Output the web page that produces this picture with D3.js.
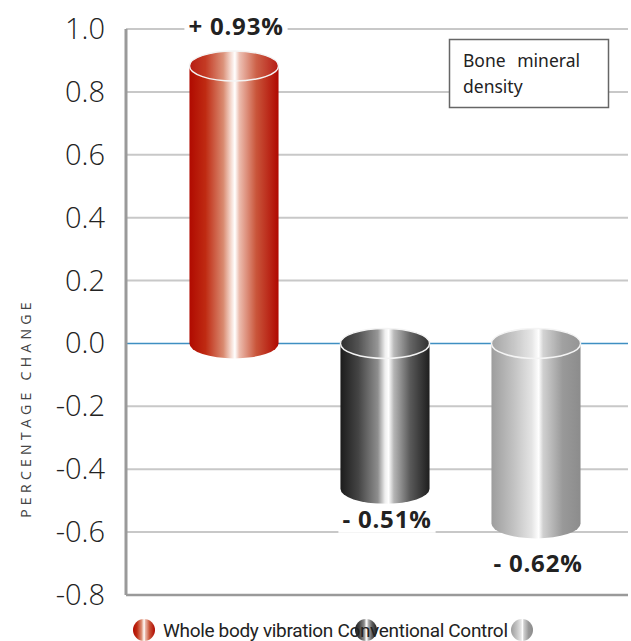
<!DOCTYPE html>
<html>
<head>
	<meta charset="utf-8">
	<title>bone mineral density</title>
	<script src="https://cdn.jsdelivr.net/npm/d3@7/dist/d3.min.js"></script>
	<style>
		body {
			margin: 0;
			background: #fff;
		}
		.grid line {
			stroke: #c8c8c8;
			stroke-width: 2;
		}
		.tick-label {
			font-family: "Open Sans", sans-serif;
			font-weight: 300;
			font-size: 29px;
			fill: #222;
		}
		.value-label {
			font-family: "Open Sans", sans-serif;
			font-weight: 700;
			font-size: 24px;
			fill: #222;
		}
		.legend text {
			font-family: "Liberation Sans Narrow", "Roboto", sans-serif;
			font-size: 19px;
			fill: #222;
		}
	</style>
</head>
<body>
	<svg id="chart" width="631" height="641"></svg>
<script>

// data
var categories = ["Whole body vibration", "Conventional", "Control"];
var values = [0.93, -0.51, -0.62];
var valueLabels = ["+ 0.93%", "- 0.51%", "- 0.62%"];
var yTicks = [1.0, 0.8, 0.6, 0.4, 0.2, 0.0, -0.2, -0.4, -0.6, -0.8];

// gradient stops for each cylinder (offset, colour)
var gradStops = [
	[[0, "#b00a00"], [0.18, "#bf2a12"], [0.38, "#d98a70"], [0.47, "#f6ddd4"], [0.51, "#ffffff"], [0.56, "#ecbcae"], [0.75, "#c9553a"], [1, "#b00800"]],
	[[0, "#1c1c1c"], [0.2, "#444"], [0.42, "#8e8e8e"], [0.5, "#eeeeee"], [0.54, "#ffffff"], [0.6, "#b5b5b5"], [0.78, "#5a5a5a"], [1, "#1e1e1e"]],
	[[0, "#9d9d9d"], [0.25, "#c2c2c2"], [0.45, "#e4e4e4"], [0.53, "#ffffff"], [0.58, "#d0d0d0"], [0.8, "#999"], [1, "#8c8c8c"]]
];

var svg = d3.select("#chart");

var y = d3.scaleLinear()
	.domain([-0.8, 1.0])
	.range([595, 29]);

var x = d3.scaleBand()
	.domain(categories)
	.range([158.5, 611.5])
	.paddingInner(0.41)
	.paddingOuter(0.205);

var axisX = 126, rightX = 628;
var ry = 15;

// gradients
var defs = svg.append("defs");
gradStops.forEach(function(stops, i) {
	var g = defs.append("linearGradient")
		.attr("id", "grad" + i)
		.attr("x1", "0%").attr("x2", "100%")
		.attr("y1", "0%").attr("y2", "0%");
	stops.forEach(function(s) {
		g.append("stop").attr("offset", s[0]).attr("stop-color", s[1]);
	});
});

//
// grid and axis
//

var gridG = svg.append("g").attr("class", "grid");
gridG.selectAll("line")
	.data(yTicks.filter(function(d) { return d !== 0 && d !== -0.8; }))
	.enter().append("line")
		.attr("x1", axisX)
		.attr("x2", rightX)
		.attr("y1", function(d) { return y(d); })
		.attr("y2", function(d) { return y(d); });

// zero line
svg.append("line")
	.attr("x1", axisX).attr("x2", rightX)
	.attr("y1", y(0)).attr("y2", y(0))
	.attr("stroke", "#3f8fc2")
	.attr("stroke-width", 1.5);

// axis lines
svg.append("line")
	.attr("x1", axisX).attr("x2", axisX)
	.attr("y1", y(1.0)).attr("y2", y(-0.8))
	.attr("stroke", "#9a9a9a")
	.attr("stroke-width", 3);
svg.append("line")
	.attr("x1", axisX).attr("x2", rightX)
	.attr("y1", y(-0.8)).attr("y2", y(-0.8))
	.attr("stroke", "#9a9a9a")
	.attr("stroke-width", 2.5);

// tick labels (plain hyphen for the minus sign, as in the original)
svg.selectAll(".tick-label")
	.data(yTicks)
	.enter().append("text")
		.attr("class", "tick-label")
		.attr("x", 105)
		.attr("y", function(d) { return y(d) + 10; })
		.attr("text-anchor", "end")
		.text(function(d) { return d3.format(".1f")(d).replace("\u2212", "-"); });

// y title
svg.append("text")
	.attr("transform", "translate(31," + 408 + ") rotate(-90)")
	.attr("text-anchor", "middle")
	.style("font-family", "'Open Sans', sans-serif")
	.style("font-size", "14px")
	.style("letter-spacing", "4.3px")
	.style("fill", "#444")
	.text("PERCENTAGE CHANGE");

//
// cylinders
//

var barData = categories.map(function(c, i) {
	return { cat: c, value: values[i], label: valueLabels[i], idx: i };
});

var barG = svg.append("g").attr("class", "bars");

barData.forEach(function(d) {
	var x0 = x(d.cat), x1 = x0 + x.bandwidth();
	var rx = x.bandwidth() / 2;
	var cx = x0 + rx;
	var y0 = y(0);
	var yEnd = d.value >= 0 ? y(d.value) + ry : y(d.value) - ry;
	var g = barG.append("g");
	var fill = "url(#grad" + d.idx + ")";
	var capY, body;
	if (d.value >= 0) {
		body = "M" + x0 + "," + yEnd + "L" + x0 + "," + y0 +
			"A" + rx + "," + ry + " 0 0 0 " + x1 + "," + y0 +
			"L" + x1 + "," + yEnd + "Z";
		capY = yEnd;
	} else {
		body = "M" + x0 + "," + y0 + "L" + x0 + "," + yEnd +
			"A" + rx + "," + ry + " 0 0 0 " + x1 + "," + yEnd +
			"L" + x1 + "," + y0 + "Z";
		capY = y0;
	}
	g.append("path")
		.attr("d", body)
		.attr("fill", fill);
	g.append("ellipse")
		.attr("cx", cx).attr("cy", capY)
		.attr("rx", rx).attr("ry", ry)
		.attr("fill", fill)
		.attr("stroke", "#f4f4f4")
		.attr("stroke-width", 1.5);
	g.append("ellipse")
		.attr("cx", cx).attr("cy", capY)
		.attr("rx", rx).attr("ry", ry)
		.attr("fill", "#fff")
		.attr("opacity", 0.08);
});

// value labels
var labelG = svg.append("g");
barData.forEach(function(d) {
	var cx = x(d.cat) + x.bandwidth() / 2;
	var ly = d.value >= 0 ? y(d.value) - 16 : y(d.value) + 24 + (d.idx - 1) * 10;
	var t = labelG.append("text")
		.attr("class", "value-label")
		.attr("x", cx + 2)
		.attr("y", ly)
		.attr("text-anchor", "middle")
		.style("letter-spacing", "0.8px")
		.text(d.label);
	var bb = t.node().getBBox();
	labelG.insert("rect", function() { return t.node(); })
		.attr("x", bb.x - 4).attr("y", bb.y + 2)
		.attr("width", bb.width + 8).attr("height", bb.height - 4)
		.attr("fill", "#fff");
});

//
// info box
//

svg.append("rect")
	.attr("x", 449.5).attr("y", 39.5)
	.attr("width", 159).attr("height", 68)
	.attr("fill", "#fff")
	.attr("stroke", "#666")
	.attr("stroke-width", 1.5);
var boxText = svg.append("text")
	.style("font-family", "'Noto Sans', sans-serif")
	.style("font-size", "17.5px")
	.style("fill", "#222");
boxText.append("tspan").attr("x", 463).attr("y", 67).style("word-spacing", "7px").text("Bone mineral");
boxText.append("tspan").attr("x", 463).attr("y", 93).text("density");

//
// legend
//

var legend = svg.append("g").attr("class", "legend");
var legendIcons = [144, 366, 522];
legendIcons.forEach(function(lx, i) {
	legend.append("ellipse")
		.attr("cx", lx).attr("cy", 630)
		.attr("rx", 11).attr("ry", 11)
		.attr("fill", "url(#grad" + i + ")");
});
legend.append("text")
	.attr("x", 163)
	.attr("y", 637)
	.attr("textLength", 345)
	.text(categories.join(" "));

</script>
</body>
</html>
